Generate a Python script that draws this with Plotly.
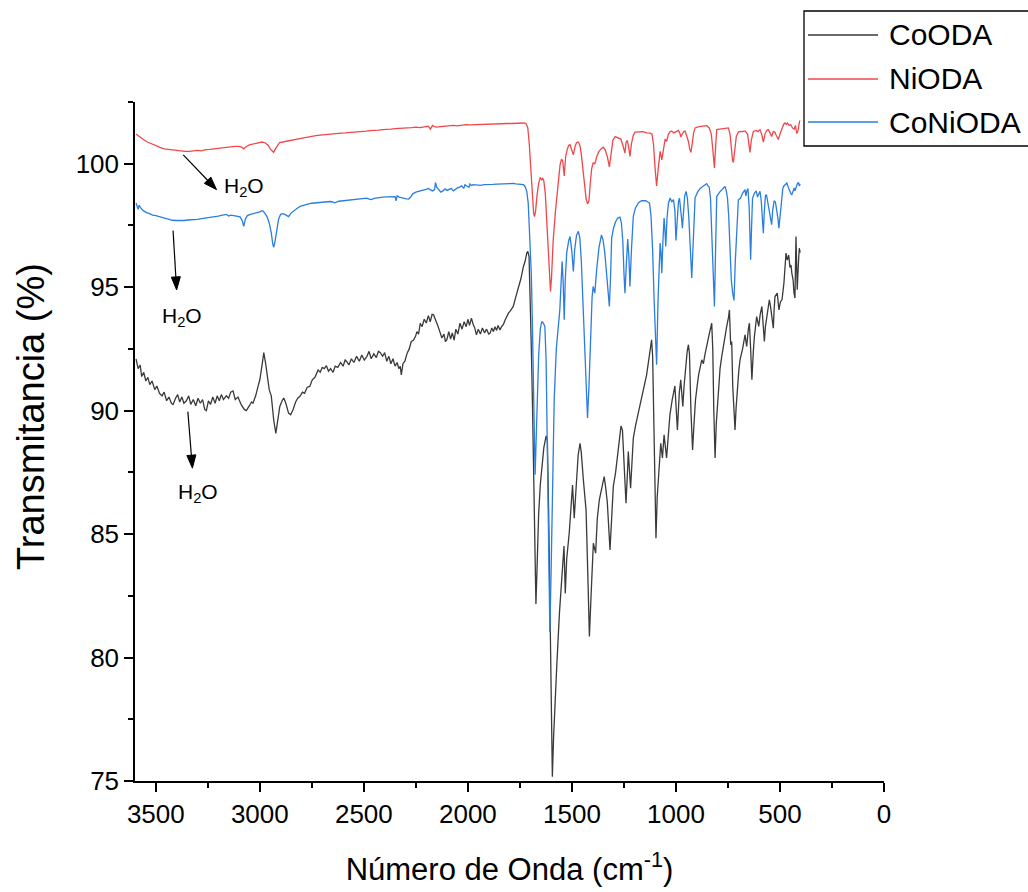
import math
import plotly.graph_objects as go

# ---------------- data ----------------
series_names = ["CoODA", "NiODA", "CoNiODA"]
series_colors = ["#3a3a3a", "#f0474b", "#2a7de1"]

wn_cooda = [3595,3585,3575,3568,3558,3548,3538,3529,3518,3505,3495,3482,3470,3460,3448,3437,3425,3417,3405,3395,
            3385,3375,3365,3353,3342,3332,3320,3308,3297,3286,3275,3265,3257,3247,3237,3226,3215,3205,3195,3185,
            3175,3161,3150,3140,3129,3118,3105,3090,3075,3065,3050,3040,3033,3020,3008,3000,2990,2981,2972,2965,
            2955,2945,2933,2923,2913,2904,2893,2885,2875,2862,2852,2840,2828,2818,2808,2795,2785,2772,2760,2748,
            2735,2720,2710,2700,2690,2680,2670,2660,2648,2638,2625,2612,2600,2590,2583,2572,2560,2548,2535,2522,
            2510,2498,2486,2475,2465,2452,2440,2430,2421,2410,2400,2390,2380,2370,2360,2350,2340,2332,2325,2320,
            2312,2303,2292,2282,2272,2262,2252,2245,2237,2229,2220,2210,2200,2190,2181,2172,2165,2155,2145,2135,
            2125,2115,2108,2101,2092,2083,2075,2066,2058,2048,2038,2028,2018,2008,2000,1992,1983,1975,1967,1959,
            1950,1940,1930,1920,1910,1900,1893,1885,1877,1870,1862,1855,1846,1838,1830,1822,1814,1805,1795,1782,
            1770,1758,1745,1733,1725,1717,1712,1706,1700,1695,1690,1683,1677,1673,1668,1660,1652,1645,1635,1624,
            1618,1612,1606,1600,1594,1588,1580,1573,1560,1548,1538,1532,1525,1513,1505,1497,1489,1480,1470,1461,
            1455,1445,1432,1424,1416,1408,1397,1386,1378,1368,1357,1345,1338,1330,1317,1310,1301,1290,1278,1264,
            1257,1249,1240,1233,1229,1218,1211,1205,1194,1181,1170,1160,1150,1141,1130,1120,1117,1112,1105,1100,
            1096,1090,1082,1073,1065,1057,1045,1037,1029,1018,1005,993,984,977,967,961,954,946,940,935,
            928,920,913,906,898,891,876,868,860,852,840,828,823,818,812,806,796,788,780,769,
            756,747,743,737,732,727,720,716,711,705,698,692,679,668,660,652,647,641,635,628,
            623,612,602,595,587,580,575,570,564,556,551,545,538,532,528,524,513,505,498,490,
            481,475,471,465,458,452,447,443,437,433,428,423,417,410,407,403]
t_cooda = [92.10,91.70,91.85,91.38,91.55,91.20,91.35,91.05,91.20,90.85,91.00,90.70,90.60,90.75,90.40,90.55,90.30,90.25,90.50,90.65,
           90.35,90.55,90.30,90.40,90.60,90.25,90.45,90.20,90.50,90.30,90.45,90.05,90.00,90.40,90.25,90.55,90.30,90.60,90.40,90.65,
           90.45,90.60,90.50,90.75,90.80,90.45,90.55,90.25,90.05,90.00,90.20,90.35,90.30,90.60,91.00,91.25,91.80,92.35,91.90,91.40,
           90.85,90.60,89.60,89.08,89.60,90.17,90.40,90.51,90.30,89.90,89.83,90.05,90.35,90.50,90.57,90.75,90.70,90.95,90.98,91.25,
           91.35,91.65,91.55,91.75,91.70,91.82,91.60,91.70,91.55,91.80,91.75,91.95,91.80,92.05,91.99,91.85,92.10,91.95,92.20,92.00,
           92.25,92.05,92.19,92.40,92.10,92.30,92.15,92.40,92.35,92.20,92.35,92.00,92.20,91.90,92.10,91.80,91.95,91.70,91.79,91.45,
           91.90,92.00,92.33,92.50,92.80,92.85,93.00,93.20,93.10,93.54,93.40,93.70,93.55,93.85,93.60,93.90,93.88,93.70,93.45,93.20,
           92.94,93.10,92.80,92.87,93.20,92.90,93.15,92.85,93.30,93.10,93.54,93.30,93.60,93.40,93.70,93.45,93.75,93.50,93.35,93.07,
           93.30,93.10,93.35,93.15,93.30,93.10,93.14,93.35,93.20,93.40,93.25,93.45,93.27,93.40,93.48,93.65,93.81,93.95,94.05,94.22,
           94.60,94.96,95.35,95.84,96.05,96.38,96.45,96.24,94.50,92.50,90.44,86.50,83.50,82.17,83.50,85.80,87.00,87.74,88.50,88.98,
           88.80,86.00,81.50,77.50,75.17,76.80,78.50,79.63,81.80,83.20,84.52,82.60,84.00,85.04,86.00,86.99,85.64,87.00,88.20,88.68,
           88.30,87.20,85.98,83.50,80.85,82.50,84.63,84.23,85.64,86.40,86.80,87.33,86.90,86.30,84.36,85.80,86.93,87.50,88.40,89.38,
           89.20,88.00,86.25,87.50,88.34,86.86,88.00,88.88,89.40,89.90,90.40,90.80,91.10,91.45,92.10,92.70,92.87,92.20,89.50,86.50,
           84.83,86.50,87.70,88.68,88.08,89.02,88.08,89.10,89.83,90.44,91.00,89.22,90.70,91.25,90.17,91.00,91.72,92.40,92.67,92.30,
           90.00,88.41,89.50,90.44,91.00,91.45,92.06,91.90,92.30,92.67,93.10,93.54,92.50,90.00,88.08,89.50,90.91,91.70,92.19,92.80,
           93.41,93.80,94.08,92.67,92.80,91.00,89.80,89.22,90.10,90.98,91.60,92.06,92.53,93.07,92.60,93.30,93.54,92.50,91.25,92.40,
           93.00,93.81,93.41,93.90,94.22,93.40,92.80,93.40,93.81,94.30,94.49,94.20,93.60,93.34,94.10,94.62,94.76,94.08,94.40,94.50,
           95.17,95.80,96.38,96.10,96.30,95.80,95.90,95.57,95.30,94.80,94.56,97.05,94.90,96.20,96.58,96.40]

wn_niod = [3595,3580,3560,3540,3520,3500,3480,3460,3440,3420,3400,3380,3360,3340,3320,3300,3280,3260,3240,3220,
           3200,3180,3160,3140,3120,3100,3085,3077,3068,3050,3030,3010,2990,2975,2960,2950,2940,2934,2925,2915,
           2905,2890,2870,2850,2830,2810,2790,2770,2750,2730,2710,2690,2670,2650,2630,2610,2590,2570,2550,2530,
           2510,2490,2470,2450,2430,2410,2390,2370,2350,2330,2310,2290,2270,2250,2230,2210,2190,2180,2170,2160,
           2150,2130,2110,2090,2070,2050,2030,2010,1990,1970,1950,1930,1910,1890,1870,1850,1830,1810,1790,1770,
           1750,1730,1720,1712,1705,1698,1690,1684,1680,1675,1668,1660,1652,1645,1640,1635,1628,1620,1612,1606,
           1603,1598,1590,1580,1573,1565,1557,1550,1544,1537,1530,1522,1515,1509,1500,1493,1485,1478,1469,1462,
           1455,1448,1440,1432,1425,1418,1412,1405,1398,1390,1380,1370,1360,1349,1340,1330,1320,1312,1303,1292,
           1280,1265,1255,1245,1240,1234,1228,1221,1214,1205,1197,1180,1160,1140,1125,1115,1108,1100,1093,1085,
           1076,1068,1060,1052,1045,1036,1028,1020,1010,1000,988,982,976,970,962,956,948,940,934,928,
           922,915,908,890,870,852,840,830,822,815,810,804,790,770,758,748,740,734,728,724,
           718,710,700,692,680,668,656,650,644,638,628,615,605,596,588,580,572,564,556,548,
           540,532,525,518,512,508,500,490,482,476,470,464,456,448,440,432,426,419,413,406,403]
t_niod = [101.20,101.10,100.98,100.88,100.80,100.72,100.66,100.60,100.58,100.55,100.53,100.52,100.50,100.50,100.52,100.54,100.52,100.57,100.58,100.60,
          100.62,100.65,100.66,100.68,100.70,100.70,100.66,100.60,100.68,100.76,100.80,100.84,100.88,100.85,100.75,100.60,100.48,100.46,100.60,100.75,
          100.86,100.88,100.92,100.96,101.00,101.02,101.05,101.08,101.12,101.14,101.16,101.18,101.20,101.20,101.22,101.24,101.25,101.26,101.28,101.30,
          101.30,101.32,101.34,101.34,101.36,101.38,101.38,101.40,101.42,101.42,101.44,101.45,101.46,101.48,101.46,101.48,101.52,101.40,101.55,101.50,
          101.48,101.50,101.52,101.54,101.55,101.53,101.56,101.58,101.57,101.58,101.58,101.60,101.60,101.61,101.60,101.62,101.62,101.63,101.63,101.64,
          101.65,101.65,101.62,101.45,100.80,99.80,98.70,98.00,97.86,98.05,98.70,99.20,99.45,99.35,99.40,99.30,98.80,97.50,95.80,95.00,
          94.83,95.40,96.90,98.00,98.54,99.40,99.95,100.19,100.10,99.51,100.30,100.60,100.75,100.77,100.55,100.36,100.70,100.85,100.88,100.75,
          100.40,99.80,99.20,98.60,98.38,98.50,99.20,99.80,100.03,100.00,100.30,100.50,100.60,100.67,100.55,100.30,99.87,100.50,100.95,101.10,
          101.05,101.00,100.75,100.43,100.85,100.95,100.70,100.30,100.80,101.15,101.28,101.30,101.30,101.25,101.24,101.20,100.80,99.80,99.10,99.80,
          100.50,100.16,100.70,101.00,100.90,101.20,101.30,101.32,101.25,101.30,101.35,101.25,101.08,101.20,101.30,101.32,101.15,100.90,100.60,100.46,
          100.80,101.25,101.45,101.50,101.52,101.54,101.45,101.20,100.50,99.83,100.60,101.38,101.40,101.42,101.45,101.45,101.20,100.60,100.15,100.05,
          100.60,101.10,101.28,101.31,101.30,101.33,101.20,100.85,100.46,100.95,101.31,101.35,101.30,101.38,101.20,100.88,101.20,101.35,101.38,101.25,
          101.10,101.30,101.28,101.15,101.00,100.98,101.20,101.45,101.60,101.65,101.60,101.65,101.55,101.58,101.45,101.40,101.55,101.22,101.35,101.71,101.75]

wn_coniod = [3595,3590,3585,3580,3572,3560,3545,3530,3515,3500,3481,3460,3440,3420,3400,3385,3365,3345,3320,3300,
             3280,3260,3240,3220,3200,3180,3161,3150,3140,3125,3110,3095,3085,3077,3070,3060,3045,3033,3015,3000,
             2990,2983,2975,2965,2955,2945,2938,2933,2928,2920,2910,2900,2890,2880,2870,2862,2850,2835,2820,2806,
             2790,2770,2750,2730,2710,2690,2670,2662,2650,2640,2620,2600,2580,2560,2540,2520,2500,2486,2475,2465,
             2450,2430,2410,2390,2370,2355,2350,2345,2340,2330,2320,2305,2295,2285,2275,2265,2250,2235,2220,2200,
             2190,2181,2170,2160,2156,2150,2140,2130,2120,2110,2100,2090,2080,2070,2060,2050,2040,2030,2020,2014,
             2005,1995,1990,1982,1975,1960,1940,1920,1900,1880,1860,1840,1820,1800,1782,1770,1750,1733,1725,1717,
             1710,1705,1700,1695,1690,1685,1680,1677,1673,1668,1660,1652,1645,1638,1630,1624,1618,1612,1606,1600,
             1592,1585,1575,1566,1558,1552,1547,1542,1537,1532,1525,1515,1509,1501,1493,1487,1478,1469,1462,1455,
             1448,1440,1432,1425,1418,1410,1403,1398,1390,1380,1370,1358,1350,1342,1334,1326,1320,1314,1309,1300,
             1290,1280,1269,1262,1255,1250,1245,1238,1232,1226,1221,1214,1205,1195,1180,1165,1157,1145,1135,1127,
             1120,1112,1105,1100,1093,1086,1080,1076,1072,1068,1063,1057,1052,1049,1043,1036,1028,1020,1012,1005,
             1000,994,988,983,977,972,969,964,958,951,945,938,932,928,924,920,914,908,896,884,
             868,852,846,840,834,828,822,815,810,804,790,778,764,758,752,746,740,734,728,721,
             715,708,700,690,680,668,664,659,654,648,645,641,637,632,623,614,608,603,596,590,
             585,580,575,570,565,560,555,548,540,535,528,522,516,510,505,500,493,487,483,475,
             467,460,452,447,443,437,432,428,422,416,411,407,403]
t_coniod = [98.41,98.30,98.15,98.32,98.20,98.10,98.02,97.98,97.92,97.90,97.85,97.80,97.74,97.71,97.70,97.69,97.70,97.72,97.73,97.75,
            97.78,97.80,97.82,97.85,97.88,97.92,97.95,97.88,97.92,97.90,97.88,97.85,97.70,97.46,97.75,97.90,97.95,97.98,98.00,98.05,
            98.10,98.07,97.98,97.85,97.60,97.20,96.75,96.62,96.80,97.30,97.75,97.95,97.98,97.95,97.88,97.86,98.00,98.12,98.20,98.27,
            98.32,98.36,98.40,98.42,98.44,98.45,98.46,98.47,98.45,98.42,98.48,98.50,98.52,98.55,98.56,98.58,98.60,98.61,98.57,98.55,
            98.60,98.64,98.65,98.66,98.66,98.68,98.67,98.50,98.70,98.65,98.62,98.60,98.58,98.57,98.65,98.78,98.85,98.90,98.92,98.96,
            99.00,98.95,98.90,98.95,99.24,99.05,98.95,98.85,98.90,98.98,98.92,98.95,99.00,98.90,98.98,99.02,99.05,99.10,99.00,99.15,
            99.10,99.05,99.18,99.12,99.15,99.14,99.12,99.15,99.14,99.16,99.17,99.18,99.18,99.19,99.20,99.18,99.17,99.15,99.08,98.88,
            98.40,97.60,96.80,95.50,93.50,91.00,88.50,87.40,88.50,90.30,92.20,93.30,93.61,93.55,93.41,92.00,88.00,84.00,81.04,83.50,
            87.50,90.50,92.50,93.50,94.10,95.20,96.04,95.20,93.68,95.30,96.40,96.90,97.05,96.50,95.64,96.50,97.10,97.26,97.00,96.10,
            94.50,92.50,90.60,89.70,91.00,93.00,94.60,95.03,94.76,95.80,96.60,97.12,96.90,96.40,95.57,94.80,94.22,95.50,96.99,97.40,
            97.65,97.80,97.84,97.60,96.80,95.60,94.76,96.00,96.95,96.20,95.03,96.50,97.86,98.20,98.42,98.50,98.51,98.50,98.45,98.40,
            97.90,96.50,94.50,93.00,91.86,94.50,96.00,96.79,96.40,95.57,96.80,97.80,97.20,96.65,97.80,98.40,98.61,98.45,98.55,98.10,
            96.89,97.90,98.45,98.61,98.20,97.70,97.39,98.20,98.70,98.88,98.60,97.80,96.60,95.90,95.37,96.20,97.80,98.62,98.85,99.00,
            99.10,99.19,99.10,99.05,98.60,97.40,95.80,94.22,96.30,98.67,98.85,98.95,99.08,98.90,98.60,97.80,96.50,95.30,94.80,94.46,
            96.00,97.50,98.54,98.60,98.80,98.95,98.70,98.90,99.00,98.20,97.20,96.11,97.30,98.60,98.80,98.90,98.65,98.75,98.88,98.50,
            97.80,97.19,98.10,98.70,98.75,98.50,98.20,97.80,97.53,98.10,98.50,98.45,98.20,97.80,97.39,97.90,98.60,98.95,99.08,99.15,
            99.22,99.05,98.85,98.78,98.74,98.95,99.02,98.90,99.10,99.20,99.24,99.10,99.18]

x_range = [3600, 0]
y_range = [75, 102.5]
x_title = "Número de Onda (cm<sup>-1</sup>)"
y_title = "Transmitancia (%)"

# annotation arrows: (tail_x, tail_y, tip_x, tip_y, label_x, label_y) in data units
h2o_arrows = [
    (3368, 100.36, 3208, 98.95, 3077, 99.07),
    (3417, 97.29, 3400, 94.89, 3376, 93.81),
    (3346, 89.96, 3324, 87.67, 3296, 86.66),
]

FONT = "Liberation Sans, Arial, Helvetica, sans-serif"
W, H = 1028, 892
ML, MR, MT, MB = 135, 144, 102, 111
PW, PH = W - ML - MR, H - MT - MB


def px(xp):
    return (xp - ML) / PW


def py(yp):
    return (H - MB - yp) / PH


def d2p(xd, yd):
    """data -> pixel"""
    xp = ML + (x_range[0] - xd) / (x_range[0] - x_range[1]) * PW
    yp = MT + (y_range[1] - yd) / (y_range[1] - y_range[0]) * PH
    return xp, yp


def p2d(xp, yp):
    """pixel -> data"""
    xd = x_range[0] - (xp - ML) / PW * (x_range[0] - x_range[1])
    yd = y_range[1] - (yp - MT) / PH * (y_range[1] - y_range[0])
    return xd, yd


fig = go.Figure()
xs_all = [wn_cooda, wn_niod, wn_coniod]
ys_all = [t_cooda, t_niod, t_coniod]
for name, col, xs, ys in zip(series_names, series_colors, xs_all, ys_all):
    fig.add_trace(go.Scatter(x=xs, y=ys, mode="lines", name=name,
                             line=dict(color=col, width=1.3), showlegend=False))

annotations = []
shapes = []
HEAD_L, HEAD_W = 13, 4.5
for (tx, ty, hx, hy, lx, ly) in h2o_arrows:
    tpx, tpy = d2p(tx, ty)
    hpx, hpy = d2p(hx, hy)
    L = math.hypot(hpx - tpx, hpy - tpy)
    ux, uy = (hpx - tpx) / L, (hpy - tpy) / L
    bx, by = hpx - ux * HEAD_L, hpy - uy * HEAD_L
    nx, ny = -uy, ux
    b1 = p2d(bx + nx * HEAD_W, by + ny * HEAD_W)
    b2 = p2d(bx - nx * HEAD_W, by - ny * HEAD_W)
    bmid = p2d(bx, by)
    shapes.append(dict(type="line", xref="x", yref="y", x0=tx, y0=ty, x1=bmid[0], y1=bmid[1],
                       line=dict(color="black", width=1.2)))
    shapes.append(dict(type="path", xref="x", yref="y",
                       path=f"M {hx},{hy} L {b1[0]},{b1[1]} L {b2[0]},{b2[1]} Z",
                       fillcolor="black", line=dict(color="black", width=1)))
    annotations.append(dict(x=lx, y=ly, xref="x", yref="y", showarrow=False,
                            text="H<sub>2</sub>O", font=dict(family=FONT, size=21, color="black")))

# custom legend box
shapes.append(dict(type="rect", xref="paper", yref="paper", x0=px(804), x1=px(1045), y0=py(146), y1=py(11),
                   line=dict(color="black", width=1.3), fillcolor="white", layer="above"))
leg_y = [35, 79, 122]
for name, col, ly in zip(series_names, series_colors, leg_y):
    shapes.append(dict(type="line", xref="paper", yref="paper", x0=px(808), x1=px(878), y0=py(ly), y1=py(ly),
                       line=dict(color=col, width=1.3)))
    annotations.append(dict(x=px(887), y=py(ly), xref="paper", yref="paper", xanchor="left", yanchor="middle",
                            showarrow=False, text=name, font=dict(family=FONT, size=30, color="black")))

# y axis title (placed as in the reference, slightly above the plot centre)
annotations.append(dict(x=px(31), y=py(417), xref="paper", yref="paper", xanchor="center", yanchor="middle",
                        showarrow=False, textangle=-90, text=y_title,
                        font=dict(family=FONT, size=38, color="black")))

fig.update_layout(
    width=W, height=H,
    margin=dict(l=ML, r=MR, t=MT, b=MB, autoexpand=False),
    paper_bgcolor="white", plot_bgcolor="white",
    font=dict(family=FONT, color="black"),
    showlegend=False,
    shapes=shapes,
    annotations=annotations,
    xaxis=dict(range=x_range, dtick=500, tick0=0, ticks="outside", ticklen=9, tickwidth=1.5,
               tickcolor="black", showline=True, linecolor="black", linewidth=1.5, showgrid=False,
               zeroline=False, tickfont=dict(size=26, family=FONT),
               minor=dict(ticks="outside", ticklen=5, tickwidth=1.5, dtick=250, tick0=0, tickcolor="black", showgrid=False),
               title=dict(text=x_title, font=dict(size=31, family=FONT), standoff=30)),
    yaxis=dict(range=y_range, dtick=5, tick0=0, ticks="outside", ticklen=9, tickwidth=1.5,
               tickcolor="black", showline=True, linecolor="black", linewidth=1.5, showgrid=False,
               zeroline=False, tickfont=dict(size=26, family=FONT),
               minor=dict(ticks="outside", ticklen=5, tickwidth=1.5, dtick=2.5, tick0=0, tickcolor="black", showgrid=False)),
)

fig.write_html("out.html")
